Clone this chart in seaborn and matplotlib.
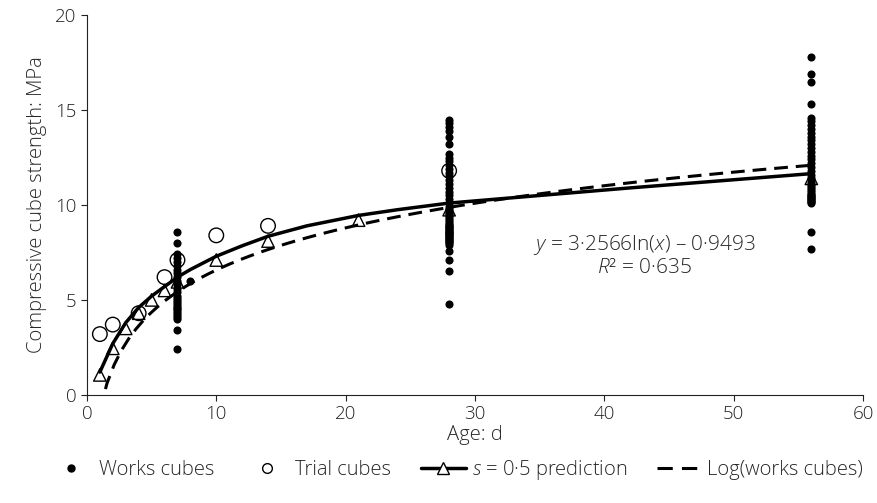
import pandas as pd
import matplotlib
matplotlib.use("Agg")
import matplotlib.pyplot as plt
import seaborn as sns
from matplotlib.lines import Line2D

# works cubes (dense columns at 7, 28 and 56 days are estimated)
works_day7 = [8.6, 8.0, 7.4, 7.2, 7.0, 6.8, 6.6, 6.4, 6.2, 6.0, 5.8, 5.6, 5.4, 5.2,
              5.1, 5.0, 4.9, 4.8, 4.7, 4.6, 4.5, 4.4, 4.3, 4.2, 4.1, 4.0, 3.4, 2.4]
works_day8 = [6.0]
works_day28 = [14.5, 14.3, 14.1, 13.9, 13.6, 13.2, 12.7, 12.5, 12.3, 12.1, 11.9, 11.7,
               11.5, 11.3, 11.1, 10.9, 10.7, 10.5, 10.3, 10.1, 9.9, 9.8, 9.7, 9.6, 9.5,
               9.4, 9.3, 9.2, 9.1, 9.0, 8.95, 8.9, 8.85, 8.8, 8.75, 8.7, 8.65, 8.6, 8.55,
               8.5, 8.45, 8.4, 8.35, 8.3, 8.25, 8.2, 8.15, 8.1, 8.05, 8.0, 7.9, 7.6, 7.1,
               6.5, 4.8]
works_day56 = [17.8, 16.9, 16.5, 15.3, 14.6, 14.4, 14.2, 14.0, 13.8, 13.6, 13.4, 13.2,
               13.0, 12.8, 12.6, 12.4, 12.2, 12.0, 11.8, 11.6, 11.4, 11.2, 11.1, 11.0,
               10.9, 10.8, 10.7, 10.6, 10.5, 10.45, 10.4, 10.35, 10.3, 10.25, 10.2,
               10.15, 10.1, 8.6, 7.7]

# trial cubes
trial_age = [1, 2, 4, 6, 7, 10, 14, 28]
trial_strength = [3.2, 3.7, 4.3, 6.2, 7.1, 8.4, 8.9, 11.8]

# s = 0.5 prediction: curve and its triangle markers
pred_curve_age = [1, 2, 3, 4, 5, 6, 7, 8, 10, 12, 14, 17, 21, 24, 28, 42, 56]
pred_curve_strength = [1.2, 2.7, 3.8, 4.6, 5.2, 5.7, 6.2, 6.6, 7.3, 7.85, 8.35, 8.9,
                       9.45, 9.75, 10.1, 10.9, 11.65]
pred_marker_age = [1, 2, 3, 4, 5, 6, 7, 10, 14, 21, 28, 56]
pred_marker_strength = [1.05, 2.45, 3.5, 4.3, 5.0, 5.5, 5.95, 7.1, 8.1, 9.2, 9.75, 11.4]

works = pd.DataFrame({
    "age": [7] * len(works_day7) + [8] * len(works_day8)
           + [28] * len(works_day28) + [56] * len(works_day56),
    "strength": works_day7 + works_day8 + works_day28 + works_day56,
})
trial = pd.DataFrame({"age": trial_age, "strength": trial_strength})
pred_curve = pd.DataFrame({"age": pred_curve_age, "strength": pred_curve_strength})
pred_marks = pd.DataFrame({"age": pred_marker_age, "strength": pred_marker_strength})

sns.set_style("ticks")
plt.rcParams["font.family"] = ["Open Sans", "DejaVu Sans"]
plt.rcParams["font.weight"] = "light"
plt.rcParams["axes.labelweight"] = "light"
plt.rcParams["mathtext.fontset"] = "custom"
plt.rcParams["mathtext.rm"] = "Open Sans:light"
plt.rcParams["mathtext.it"] = "Open Sans:italic:light"

fig = plt.figure(figsize=(8.78, 5.03), dpi=100)
ax = fig.add_axes([0.099, 0.215, 0.884, 0.755])

# log trendline fitted on the works cubes, drawn from 1 to 56 days
ax.set_xlim(1, 56)
sns.regplot(data=works, x="age", y="strength", logx=True, ci=None, scatter=False,
            truncate=False, ax=ax,
            line_kws=dict(color="black", lw=2.2, dashes=(4.5, 2.6), zorder=2))

sns.lineplot(data=pred_curve, x="age", y="strength", color="black", lw=2.5,
             ax=ax, zorder=3)
ax.scatter(pred_marks["age"], pred_marks["strength"], marker="^", s=80,
           facecolors="none", edgecolors="black", linewidths=1, zorder=4)
sns.scatterplot(data=works, x="age", y="strength", color="black", s=34,
                linewidth=0, ax=ax, zorder=5)
ax.scatter(trial["age"], trial["strength"], marker="o", s=110,
           facecolors="none", edgecolors="black", linewidths=1, zorder=6)

ax.set_xlim(0, 60)
ax.set_ylim(0, 20)
ax.set_xticks(range(0, 61, 10))
ax.set_yticks(range(0, 21, 5))
ax.tick_params(direction="out", length=4, width=0.8, labelsize=13.5, colors="#222222")
for side in ["left", "bottom"]:
    ax.spines[side].set_linewidth(0.8)
    ax.spines[side].set_color("#222222")
sns.despine(ax=ax)

ax.set_xlabel("Age: d", fontsize=14.5, labelpad=1)
ax.set_ylabel("Compressive cube strength: MPa", fontsize=14.5, labelpad=6)

ax.text(43.1, 7.35, "$y$ = 3·2566ln($x$) – 0·9493\n$R$² = 0·635",
        ha="center", va="center", fontsize=15, linespacing=1.1)

handles = [
    Line2D([], [], marker="o", color="black", linestyle="none", markersize=5),
    Line2D([], [], marker="o", color="black", markerfacecolor="none",
           linestyle="none", markersize=7, markeredgewidth=1),
    Line2D([], [], marker="^", color="black", markerfacecolor="white", lw=2.5,
           markersize=8, markeredgewidth=1),
    Line2D([], [], color="black", lw=2.2, dashes=(5, 3)),
]
labels = ["Works cubes", "Trial cubes", "$s$ = 0·5 prediction", "Log(works cubes)"]
fig.legend(handles, labels, loc="center left", bbox_to_anchor=(0.035, 0.066),
           ncol=4, frameon=False, fontsize=14.5, handlelength=2.2,
           handletextpad=0.3, columnspacing=1.5)

fig.savefig("out.png", dpi=100)
